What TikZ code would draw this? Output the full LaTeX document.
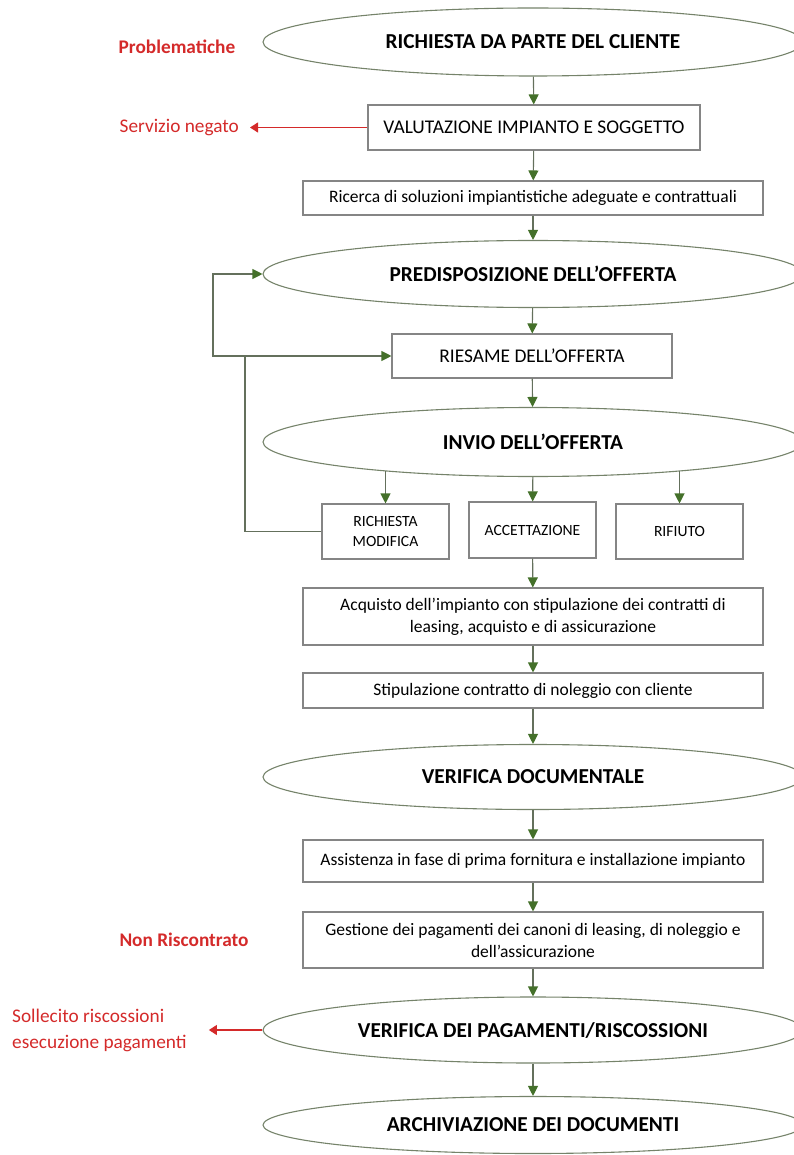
\documentclass[tikz,border=0pt]{standalone}
\usepackage{fontspec}
\setmainfont{Carlito}
\usetikzlibrary{shapes.geometric,arrows.meta}
\definecolor{arrgreen}{HTML}{44702A}
\definecolor{linegray}{HTML}{64705C}
\definecolor{ellgray}{HTML}{75836A}
\definecolor{boxgray}{HTML}{858585}
\definecolor{redlab}{HTML}{D42A2A}
\begin{document}
\begin{tikzpicture}[x=1pt,y=-1pt,
  ell/.style={ellipse, draw=ellgray, line width=1.1pt, inner sep=0pt,
    minimum width=540pt, font=\fontsize{21.3}{25}\selectfont\bfseries},
  box/.style={rectangle, draw=boxgray, line width=1.1pt, inner sep=0pt, align=center},
  bigtxt/.style={font=\fontsize{19.4}{23}\selectfont},
  midtxt/.style={font=\fontsize{17.5}{22}\selectfont},
  smalltxt/.style={font=\fontsize{15.6}{20}\selectfont},
  flow/.style={draw=linegray, line width=1.1pt, -{Triangle[length=10pt,width=10pt,color=arrgreen]}},
  redflow/.style={draw=redlab, line width=1.1pt, -{Triangle[length=8pt,width=10pt,color=redlab]}},
  redlabel/.style={text=redlab, inner sep=0pt, font=\fontsize{19.3}{26}\selectfont}
]
\useasboundingbox (0,0) rectangle (794,1155);
\clip (0,0) rectangle (794,1155);

% main flow
\node[ell, minimum height=68pt] (e1) at (533,42) {RICHIESTA DA PARTE DEL CLIENTE};
\node[box, bigtxt, minimum width=332pt, minimum height=45pt] (val) at (534,127.5) {VALUTAZIONE IMPIANTO E SOGGETTO};
\node[box, midtxt, minimum width=460pt, minimum height=34pt] (ric) at (533,198) {Ricerca di soluzioni impiantistiche adeguate e contrattuali};
\node[ell, minimum height=67pt] (pred) at (533,274) {PREDISPOSIZIONE DELL’OFFERTA};
\node[box, bigtxt, minimum width=280pt, minimum height=44pt] (ries) at (532,356) {RIESAME DELL’OFFERTA};
\node[ell, minimum height=69pt] (inv) at (533,442) {INVIO DELL’OFFERTA};
\node[box, smalltxt, minimum width=127pt, minimum height=55pt] (mod) at (385.5,531.5) {RICHIESTA\\MODIFICA};
\node[box, smalltxt, minimum width=127pt, minimum height=56pt] (acc) at (532.5,530) {ACCETTAZIONE};
\node[box, smalltxt, minimum width=127pt, minimum height=55pt] (rif) at (679.5,531.5) {RIFIUTO};
\node[box, midtxt, minimum width=460pt, minimum height=57pt] (acq) at (533,616.5) {Acquisto dell’impianto con stipulazione dei contratti di\\leasing, acquisto e di assicurazione};
\node[box, midtxt, minimum width=460pt, minimum height=35pt] (stip) at (533,690.5) {Stipulazione contratto di noleggio con cliente};
\node[ell, minimum height=65pt] (vdoc) at (533,777) {VERIFICA DOCUMENTALE};
\node[box, midtxt, minimum width=460pt, minimum height=42pt] (ass) at (533,861) {Assistenza in fase di prima fornitura e installazione impianto};
\node[box, midtxt, minimum width=460pt, minimum height=56pt] (ges) at (533,940) {Gestione dei pagamenti dei canoni di leasing, di noleggio e\\dell’assicurazione};
\node[ell, minimum height=66pt] (vpag) at (533,1030) {VERIFICA DEI PAGAMENTI/RISCOSSIONI};
\node[ell, minimum height=57pt] (arch) at (533,1125) {ARCHIVIAZIONE DEI DOCUMENTI};

% red labels
\node[redlabel, font=\fontsize{19.3}{26}\selectfont\bfseries] (prob) at (177,47) {Problematiche};
\node[redlabel, anchor=east] (neg) at (239,127.5) {Servizio negato};
\node[redlabel, font=\fontsize{19.3}{26}\selectfont\bfseries] (nonr) at (184,940) {Non Riscontrato};
\node[redlabel, anchor=west, align=left] (soll) at (12,1030) {Sollecito riscossioni\\esecuzione pagamenti};

% arrows
\draw[flow] (e1) -- (val);
\draw[flow] (val) -- (ric);
\draw[flow] (ric) -- (pred);
\draw[flow] (pred) -- (ries);
\draw[flow] (ries) -- (inv);
\draw[flow] ([yshift=6pt]mod.north |- inv.south) -- (mod.north);
\draw[flow] (inv) -- (acc);
\draw[flow] ([yshift=6pt]rif.north |- inv.south) -- (rif.north);
\draw[flow] (acc) -- (acq);
\draw[flow] (acq) -- (stip);
\draw[flow] (stip) -- (vdoc);
\draw[flow] (vdoc) -- (ass);
\draw[flow] (ass) -- (ges);
\draw[flow] (ges) -- (vpag);
\draw[flow] (vpag) -- (arch);

% loop back
\coordinate (j1) at (245,356);
\coordinate (j2) at (213,356);
\draw[flow] (mod.west) -| (j1) -- (ries.west);
\draw[flow] (j1) -- (j2) |- (pred.west);

% red arrows
\draw[redflow] (val.west) -- ([xshift=11pt]neg.east);
\draw[redflow] (vpag.west) -- ([xshift=22pt]soll.east);
\end{tikzpicture}
\end{document}
